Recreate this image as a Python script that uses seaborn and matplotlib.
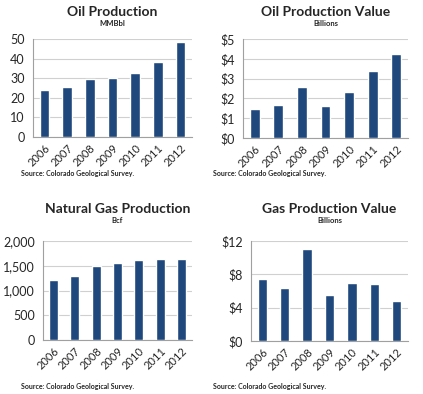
import matplotlib
matplotlib.use("Agg")
import matplotlib.pyplot as plt
import seaborn as sns
import pandas as pd

# Data
years = ["2006", "2007", "2008", "2009", "2010", "2011", "2012"]
oil_mmbbl = [24.2, 25.6, 29.5, 30.0, 32.5, 38.5, 48.3]
oil_value_bn = [1.45, 1.65, 2.6, 1.6, 2.3, 3.4, 4.25]
gas_bcf = [1220, 1300, 1500, 1555, 1620, 1635, 1645]
gas_value_bn = [7.5, 6.4, 11.0, 5.5, 7.0, 6.8, 4.8]

titles = ["Oil Production", "Oil Production Value", "Natural Gas Production", "Gas Production Value"]
subtitles = ["MMBbl", "Billions", "Bcf", "Billions"]
source = "Source: Colorado Geological Survey."

BAR = "#1f487c"
GRID = "#d0d0d0"

sns.set_style("white")
plt.rcParams["font.family"] = ["Lato", "DejaVu Sans"]

fig = plt.figure(figsize=(4.23, 3.94), dpi=100)
W, H = 423, 394

def px_axes(l, t, r, b):
    return fig.add_axes([l / W, 1 - b / H, (r - l) / W, (b - t) / H])

panels = [
    (oil_mmbbl, (33, 39, 192, 137), 50, 10, "{:.0f}"),
    (oil_value_bn, (243, 39, 408, 138), 5, 1, "${:.0f}"),
    (gas_bcf, (43, 241, 192, 340), 2000, 500, "{:,.0f}"),
    (gas_value_bn, (251, 241, 408, 341), 12, 4, "${:.0f}"),
]

for i, (vals, box, ymax, step, fmt) in enumerate(panels):
    ax = px_axes(*box)
    df = pd.DataFrame({"year": years, "value": vals})
    sns.barplot(data=df, x="year", y="value", color=BAR, saturation=1,
                width=0.42, ax=ax, zorder=3)
    ax.set_ylim(0, ymax)
    ticks = list(range(0, int(ymax) + 1, step))
    ax.set_yticks(ticks)
    ax.set_yticklabels([fmt.format(t) for t in ticks], fontsize=9)
    ax.yaxis.grid(True, color=GRID, lw=0.8, zorder=0)
    ax.set_axisbelow(True)
    ax.set_xlabel("")
    ax.set_ylabel("")
    ax.set_xlim(-0.5, 6.5)
    for s in ["top", "right"]:
        ax.spines[s].set_visible(False)
    for s in ["left", "bottom"]:
        ax.spines[s].set_color("#a0a0a0")
        ax.spines[s].set_linewidth(0.8)
    ax.set_xticks(range(7))
    ax.set_xticklabels(years, rotation=45, ha="right", rotation_mode="anchor", fontsize=8)
    ax.set_xticks([x + 0.5 for x in range(-1, 7)], minor=True)
    ax.tick_params(axis="x", which="major", length=0, pad=4)
    ax.tick_params(axis="x", which="minor", length=3, color="#a0a0a0")
    ax.tick_params(axis="y", length=3, color="#a0a0a0", pad=3)

    cx = (box[0] + box[2]) / 2 / W
    top = 0 if i < 2 else 197
    fig.text(cx, 1 - (top + 12) / H, titles[i], ha="center", va="center",
             fontsize=10, fontweight="bold")
    fig.text(cx, 1 - (top + 24) / H, subtitles[i], ha="center", va="center",
             fontsize=5.5, fontweight="bold")
    sx = 21 if i % 2 == 0 else 213
    sy = 173 if i < 2 else 386
    fig.text(sx / W, 1 - sy / H, source, ha="left", va="center",
             fontsize=5, fontweight="bold")

fig.savefig("out.png", dpi=100)
